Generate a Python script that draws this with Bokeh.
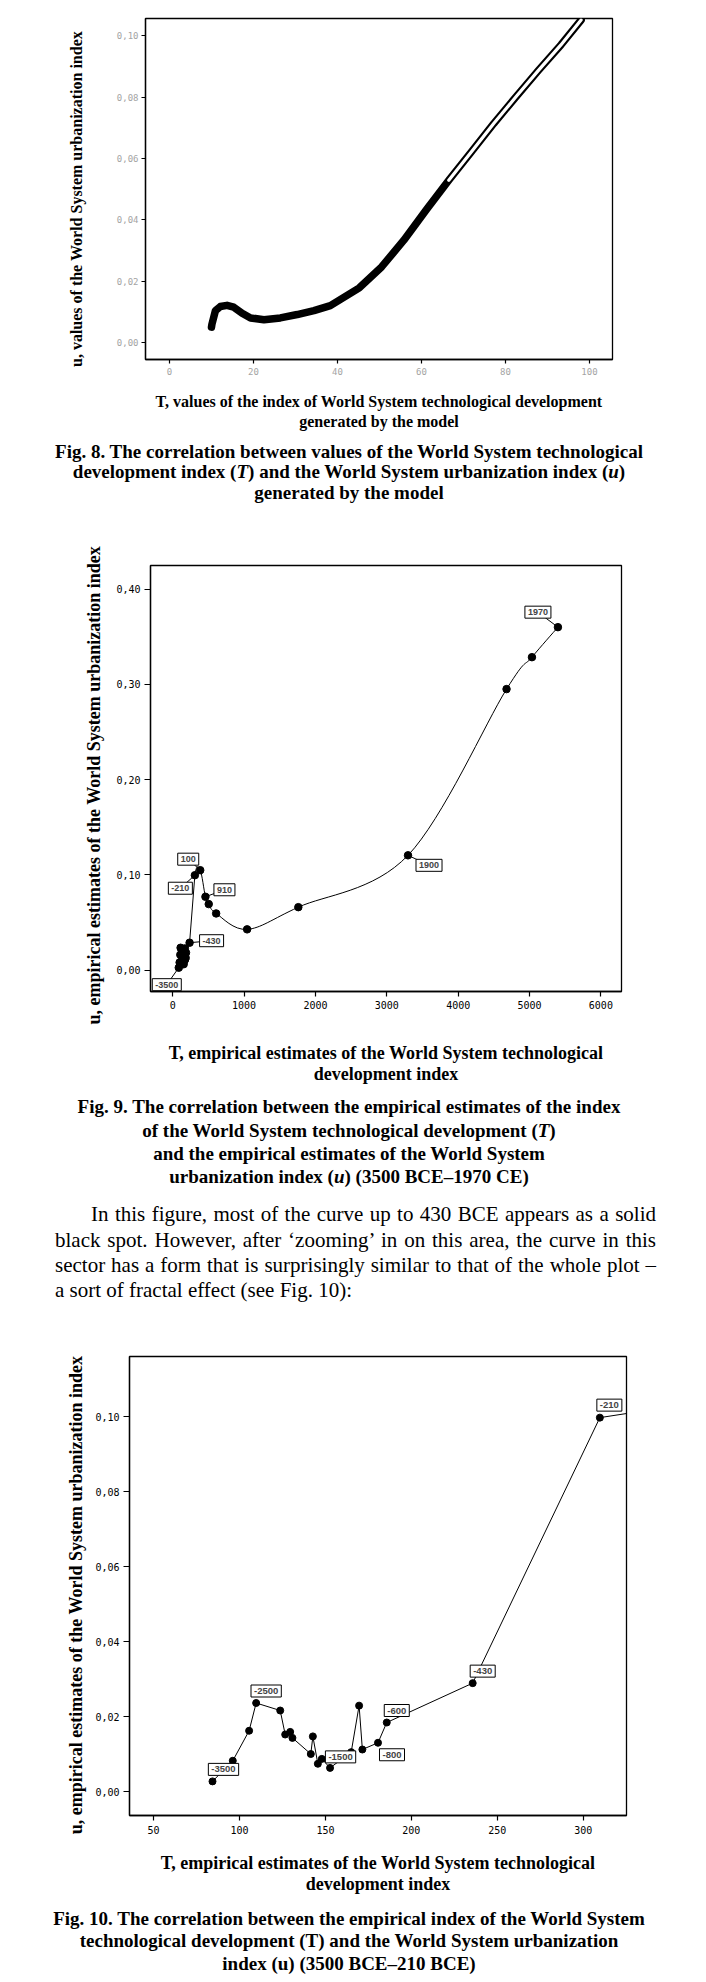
import math
from bokeh.plotting import figure
from bokeh.models import Range1d, FixedTicker, Label, Div
from bokeh.embed import file_html
from bokeh.resources import INLINE

# ---------------- data ----------------
# Fig. 8: model-generated curve (T, u)
model_T = [10.0, 10.1, 10.95, 12.1, 13.7, 15.3, 17.3, 19.3, 22.5, 26.4, 30.4, 34.4, 38.3,
           45.2, 50.5, 55.8, 61.2, 66.5, 71.9, 77.2, 82.5, 87.9, 93.2, 98.0]
model_u = [0.0051, 0.0060, 0.0105, 0.0118, 0.0122, 0.0116, 0.0096, 0.0081, 0.0075, 0.0081,
           0.0092, 0.0105, 0.0121, 0.0179, 0.0247, 0.0334, 0.0434, 0.0529, 0.0622, 0.0714,
           0.0801, 0.0888, 0.0970, 0.1051]
model_hollow_start = 17   # index from which the model markers appear hollow

fig8_xticks = [0, 20, 40, 60, 80, 100]
fig8_xtick_labels = ["0", "20", "40", "60", "80", "100"]
fig8_yticks = [0.0, 0.02, 0.04, 0.06, 0.08, 0.10]
fig8_ytick_labels = ["0,00", "0,02", "0,04", "0,06", "0,08", "0,10"]

# Empirical estimates (T, u), 3500 BCE - 1970 CE
emp_T = [84.3, 96.1, 105.6, 109.7, 123.7, 126.6, 129.5, 130.8, 141.5, 142.7, 145.6, 147.9,
         152.7, 165.0, 169.6, 171.5, 180.6, 185.7, 235.7, 309.7, 385.0, 458.0, 504.0, 608.0,
         1042.0, 1760.0, 3297.0, 4678.0, 5034.0, 5398.0]
emp_u = [0.0027, 0.0082, 0.0162, 0.0236, 0.0216, 0.0152, 0.0159, 0.0143, 0.0100, 0.0147,
         0.0074, 0.0087, 0.0063, 0.0105, 0.0229, 0.0112, 0.0130, 0.0184, 0.0289, 0.0997,
         0.1050, 0.0771, 0.0694, 0.0596, 0.0429, 0.0662, 0.1206, 0.2950, 0.3285, 0.3600]
emp_smooth_start = 19     # Fig. 9 draws a smoothed curve from this point on

fig9_label_index = [0, 18, 19, 20, 21, 26, 29]
fig9_label_text = ["-3500", "-430", "-210", "100", "910", "1900", "1970"]
fig10_label_index = [0, 3, 12, 16, 17, 18, 19]
fig10_label_text = ["-3500", "-2500", "-1500", "-800", "-600", "-430", "-210"]

fig9_xticks = [0, 1000, 2000, 3000, 4000, 5000, 6000]
fig9_xtick_labels = ["0", "1000", "2000", "3000", "4000", "5000", "6000"]
fig9_yticks = [0.0, 0.1, 0.2, 0.3, 0.4]
fig9_ytick_labels = ["0,00", "0,10", "0,20", "0,30", "0,40"]

fig10_xticks = [50, 100, 150, 200, 250, 300]
fig10_xtick_labels = ["50", "100", "150", "200", "250", "300"]
fig10_yticks = [0.0, 0.02, 0.04, 0.06, 0.08, 0.10]
fig10_ytick_labels = ["0,00", "0,02", "0,04", "0,06", "0,08", "0,10"]

# ---------------- helpers ----------------
SERIF = "Liberation Serif"
MONO = "DejaVu Sans Mono"
W = 698
NB = "\u00a0"


def make_fig(h, xr, yr, bl, br, bt, bb):
    p = figure(width=W, height=h, output_backend="svg", toolbar_location=None,
               x_range=Range1d(*xr), y_range=Range1d(*yr),
               min_border_left=bl, min_border_right=br, min_border_top=bt,
               min_border_bottom=bb)
    p.grid.visible = False
    p.outline_line_color = "black"
    p.outline_line_width = 1.3
    p.outline_line_alpha = 1.0
    p.background_fill_color = "white"
    p.border_fill_color = "white"
    return p


def style_axes(p, xt, xl, yt, yl, tick_size, tick_color, xtick_out, ytick_out,
               x_std, y_std, xlab, ylab, xlab_size, ylab_size, xlab_lh, xlab_std, ylab_std):
    p.xaxis.ticker = FixedTicker(ticks=xt)
    p.yaxis.ticker = FixedTicker(ticks=yt)
    p.xaxis.major_label_overrides = {t: s for t, s in zip(xt, xl)}
    p.yaxis.major_label_overrides = {t: s for t, s in zip(yt, yl)}
    for ax in (p.xaxis, p.yaxis):
        ax.minor_tick_line_color = None
        ax.major_tick_in = 0
        ax.axis_line_color = "black"
        ax.axis_line_width = 1.3
        ax.major_tick_line_color = "black"
        ax.major_tick_line_width = 1.2
        ax.major_label_text_font = MONO
        ax.major_label_text_font_size = tick_size
        ax.major_label_text_color = tick_color
        ax.axis_label_text_font = SERIF
        ax.axis_label_text_font_style = "bold"
        ax.axis_label_text_color = "black"
    p.xaxis.major_tick_out = xtick_out
    p.yaxis.major_tick_out = ytick_out
    p.xaxis.major_label_standoff = x_std
    p.yaxis.major_label_standoff = y_std
    p.xaxis.axis_label = xlab
    p.yaxis.axis_label = ylab
    p.xaxis.axis_label_text_font_size = xlab_size
    p.yaxis.axis_label_text_font_size = ylab_size
    p.xaxis.axis_label_text_line_height = xlab_lh
    p.xaxis.axis_label_standoff = xlab_std
    p.yaxis.axis_label_standoff = ylab_std


def caption_div(lines, h, pad, size, lh):
    html = ("<div style=\"padding-top:%spx;width:%dpx;text-align:center;font-family:'%s';"
            "font-weight:bold;font-size:%s;line-height:%spx;color:#000;\">%s</div>"
            % (pad, W, SERIF, size, lh, "<br>".join(lines)))
    return Div(text=html, width=W, height=h, margin=(0, 0, 0, 0))


# ---------------- Fig. 8 ----------------
pA = make_fig(439, (-5.71, 105.48), (-0.00544, 0.1056), 145, 86, 18, 80)
style_axes(pA, fig8_xticks, fig8_xtick_labels, fig8_yticks, fig8_ytick_labels,
           "9px", "#a4a4a4", 4, 4, 4, 3,
           "T, values of the index of World System technological development\ngenerated by the model",
           "u, values of the World System urbanization index" + NB * 5,
           "16px", "16px", 1.2, 15, 29)
pA.line(model_T, model_u, line_color="black", line_width=7.5,
        line_cap="round", line_join="round")
pA.line(model_T[model_hollow_start:], model_u[model_hollow_start:], line_color="white",
        line_width=3.2, line_cap="round", line_join="round")

divA = caption_div(["Fig. 8. The correlation between values of the World System technological",
                    "development index (<i>T</i>) and the World System urbanization index (<i>u</i>)",
                    "generated by the model"], 71, 2.75, "19px", 20.5)

# ---------------- Fig. 9 ----------------
B_bl, B_br, B_bt, B_bb, B_h = 150, 77, 55, 94, 576
B_xr = (-312.0, 6289.0)
B_yr = (-0.0223, 0.4247)
pB = make_fig(B_h, B_xr, B_yr, B_bl, B_br, B_bt, B_bb)
style_axes(pB, fig9_xticks, fig9_xtick_labels, fig9_yticks, fig9_ytick_labels,
           "10px", "black", 5, 6, 4, 4,
           "T, empirical estimates of the World System technological\ndevelopment index",
           "u, empirical estimates of the World System urbanization index" + NB * 3,
           "18px", "18px", 1.05, 31, 9)

# straight part (dense early cluster)
s = emp_smooth_start
pB.line(emp_T[:s + 1], emp_u[:s + 1], line_color="black", line_width=1)
# smoothed part: Catmull-Rom spline expressed as cubic Bezier segments
sx, sy = emp_T[s:], emp_u[s:]
n = len(sx)
bz = {k: [] for k in ("x0", "y0", "x1", "y1", "cx0", "cy0", "cx1", "cy1")}
for i in range(n - 1):
    xm, ym = (sx[i - 1], sy[i - 1]) if i > 0 else (emp_T[s - 1], emp_u[s - 1])
    xp, yp = (sx[i + 2], sy[i + 2]) if i + 2 < n else (sx[i + 1], sy[i + 1])
    bz["x0"].append(sx[i]); bz["y0"].append(sy[i])
    bz["x1"].append(sx[i + 1]); bz["y1"].append(sy[i + 1])
    bz["cx0"].append(sx[i] + (sx[i + 1] - xm) / 6.0)
    bz["cy0"].append(sy[i] + (sy[i + 1] - ym) / 6.0)
    bz["cx1"].append(sx[i + 1] - (xp - sx[i]) / 6.0)
    bz["cy1"].append(sy[i + 1] - (yp - sy[i]) / 6.0)
pB.bezier(line_color="black", line_width=1, **bz)
pB.scatter(emp_T, emp_u, marker="circle", size=7.5, fill_color="black", line_color="black")

fB_w = W - B_bl - B_br
fB_h = B_h - B_bt - B_bb
ppx = (B_xr[1] - B_xr[0]) / fB_w
ppy = (B_yr[1] - B_yr[0]) / fB_h
fig9_offsets = [(-12, -17), (22, 2), (-14.5, -13), (-12, 11), (19, 7), (21, -10), (-20, 15)]
lx0, ly0, lx1, ly1 = [], [], [], []
for idx, (dx, dy) in zip(fig9_label_index, fig9_offsets):
    lx0.append(emp_T[idx]); ly0.append(emp_u[idx])
    lx1.append(emp_T[idx] + dx * ppx); ly1.append(emp_u[idx] + dy * ppy)
pB.segment(lx0, ly0, lx1, ly1, line_color="black", line_width=1)
for idx, txt, (dx, dy) in zip(fig9_label_index, fig9_label_text, fig9_offsets):
    pB.add_layout(Label(x=emp_T[idx], y=emp_u[idx], x_offset=dx, y_offset=dy, text=txt,
                        text_font="Liberation Sans", text_font_size="9px",
                        text_font_style="bold", text_align="center",
                        text_baseline="middle", background_fill_color="white",
                        border_line_color="black", border_line_width=1, padding=3))

divB = caption_div(["Fig. 9. The correlation between the empirical estimates of the index",
                    "of the World System technological development (<i>T</i>)",
                    "and the empirical estimates of the World System",
                    "urbanization index (<i>u</i>) (3500 BCE\u20131970 CE)"], 104, 9.4, "19px", 23.3)

para_lines = [
    "In this figure, most of the curve up to 430 BCE appears as a solid",
    "black spot. However, after \u2018zooming\u2019 in on this area, the curve in this",
    "sector has a form that is surprisingly similar to that of the whole plot \u2013",
    "a sort of fractal effect (see Fig. 10):",
]
ph = []
for i, ln in enumerate(para_lines):
    last = i == len(para_lines) - 1
    ph.append("<div style=\"text-align:%s;text-align-last:%s;%s\">%s</div>"
              % ("left" if last else "justify", "left" if last else "justify",
                 "text-indent:36px;" if i == 0 else "", ln))
para_html = ("<div style=\"padding-top:12.4px;margin-left:55px;width:601px;font-family:'%s';"
             "font-size:21px;line-height:25.3px;color:#000;\">%s</div>" % (SERIF, "".join(ph)))
divP = Div(text=para_html, width=W, height=130, margin=(0, 0, 0, 0))

# ---------------- Fig. 10 ----------------
pC = make_fig(576, (36.0, 325.2), (-0.0064, 0.116), 129, 72, 36, 80)
style_axes(pC, fig10_xticks, fig10_xtick_labels, fig10_yticks, fig10_ytick_labels,
           "10px", "black", 5, 6, 5, 4,
           "T, empirical estimates of the World System technological\ndevelopment index",
           "u, empirical estimates of the World System urbanization index" + NB * 4,
           "18px", "18px", 1.05, 16, 6)
pC.line(emp_T, emp_u, line_color="black", line_width=1)
pC.scatter(emp_T, emp_u, marker="circle", size=7, fill_color="black", line_color="black")
fig10_offsets = [(11, 12), (10, 12), (10.5, 11), (14, -12), (10, 12), (10, 12), (9.5, 12.5)]
for idx, txt, (dx, dy) in zip(fig10_label_index, fig10_label_text, fig10_offsets):
    pC.add_layout(Label(x=emp_T[idx], y=emp_u[idx], x_offset=dx, y_offset=dy, text=txt,
                        text_font="Liberation Sans", text_font_size="9.5px",
                        text_font_style="bold", text_align="center",
                        text_baseline="middle", background_fill_color="white",
                        border_line_color="black", border_line_width=1, padding=3))

divC = caption_div(["Fig. 10. The correlation between the empirical index of the World System",
                    "technological development (T) and the World System urbanization",
                    "index (u) (3500 BCE\u2013210 BCE)"], 74, 11.75, "19px", 22.5)

roots = [pA, divA, pB, divB, divP, pC, divC]

with open("out.html", "w", encoding="utf-8") as f:
    f.write(file_html(roots, INLINE))
